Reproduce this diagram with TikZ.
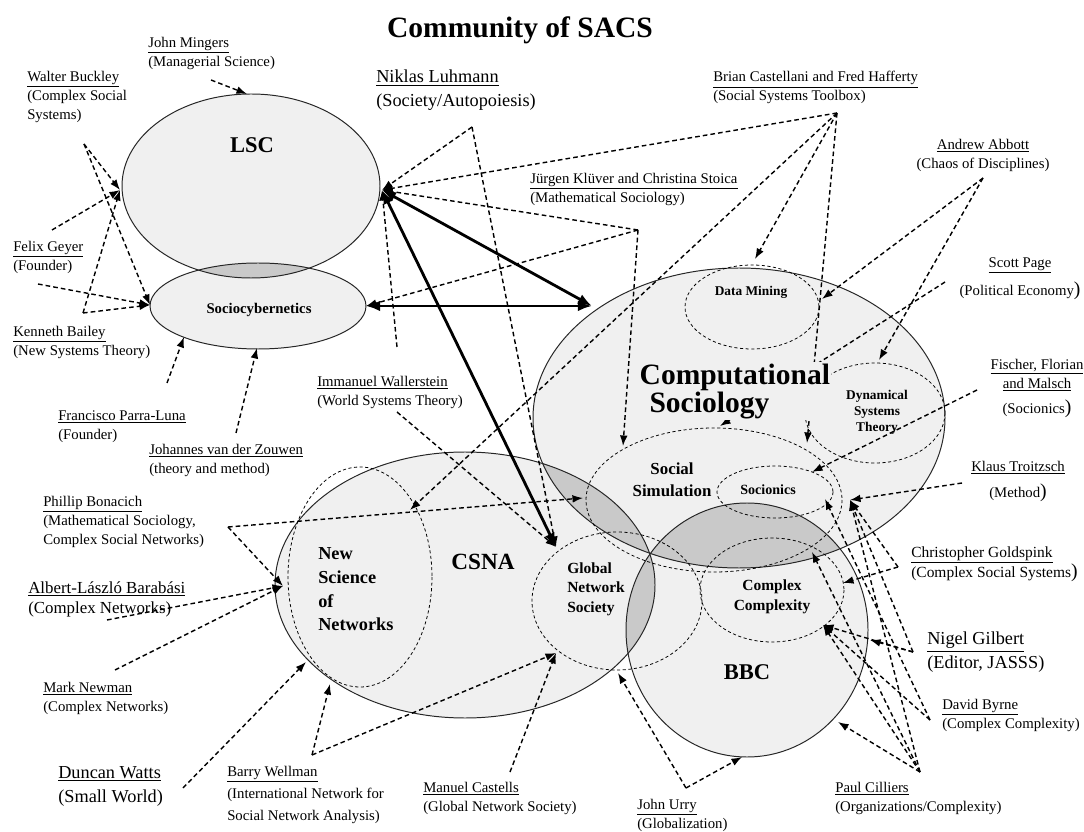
\documentclass[tikz,border=0pt]{standalone}
\usepackage{fontspec}
\setmainfont{Liberation Serif}
\usetikzlibrary{arrows.meta}
\usetikzlibrary{positioning}

\definecolor{cellfill}{HTML}{F0F0F0}
\definecolor{lensfill}{HTML}{C9C9C9}

% the five solid areas
\newcommand{\lscshape}{(251,186) ellipse [x radius=129, y radius=92]}
\newcommand{\socioshape}{(258,306) ellipse [x radius=108, y radius=43]}
\newcommand{\compshape}{(739,418) ellipse [x radius=206, y radius=150]}
\newcommand{\csnashape}{(465,585) ellipse [x radius=190, y radius=133]}
\newcommand{\bbcshape}{(747,630) ellipse [x radius=121, y radius=127]}

\tikzset{
  person/.style={font=\fontsize{10.5}{13.5}\selectfont, align=left, inner sep=0pt, anchor=north west},
  bigperson/.style={person, font=\fontsize{13}{17}\selectfont},
  field/.style={font=\bfseries\fontsize{16}{18}\selectfont, inner sep=0pt},
  subfield/.style={font=\bfseries\fontsize{10.5}{13}\selectfont, align=center, inner sep=0pt},
  area/.style={draw=black!85, line width=0.7pt},
  subarea/.style={draw=black, line width=0.55pt, dash pattern=on 2.2pt off 1.8pt},
  link/.style={line width=1pt, dash pattern=on 3.3pt off 2.2pt, -{Latex[length=7.5pt,width=5.5pt]}},
  strong/.style={line width=2pt, {Latex[length=10pt,width=7.5pt]}-{Latex[length=10pt,width=7.5pt]}},
}

\begin{document}
\begin{tikzpicture}[x=0.025cm, y=-0.025cm]
  \fill[white] (0,0) rectangle (1084,832);
  \useasboundingbox (0,0) rectangle (1084,832);

  % areas
  \fill[cellfill] \lscshape;
  \fill[cellfill] \socioshape;
  \fill[cellfill] \compshape;
  \fill[cellfill] \csnashape;
  \fill[cellfill] \bbcshape;
  \begin{scope}
    \clip \lscshape;
    \fill[lensfill] \socioshape;
  \end{scope}
  \begin{scope}
    \clip \compshape;
    \fill[lensfill] \csnashape;
    \fill[lensfill] \bbcshape;
  \end{scope}
  \begin{scope}
    \clip \csnashape;
    \fill[lensfill] \bbcshape;
  \end{scope}
  \draw[area] \lscshape;
  \draw[area] \socioshape;
  \draw[area] \compshape;
  \draw[area] \csnashape;
  \draw[area] \bbcshape;

  % inner fields
  \draw[subarea] (752,307) ellipse [x radius=67, y radius=42];
  \draw[subarea] (875,413) ellipse [x radius=70, y radius=50];
  \draw[subarea] (714,500) ellipse [x radius=128, y radius=72];
  \draw[subarea] (775,492) ellipse [x radius=58, y radius=26];
  \draw[subarea] (772,590) ellipse [x radius=72, y radius=52];
  \draw[subarea] (617,601) ellipse [x radius=85, y radius=69];
  \draw[subarea] (360,577) ellipse [x radius=72, y radius=110];

  % arrow ends on the areas
  \coordinate (lsc-n) at (247,94);
  \coordinate (lsc-w) at (120,190);
  \coordinate (lsc-e) at (382,190);
  \coordinate (socio-w) at (150,305);
  \coordinate (socio-e) at (366,306);
  \coordinate (socio-sw) at (184,337);
  \coordinate (socio-s) at (257,348);
  \coordinate (cs-w) at (592,306);
  \coordinate (dm-n) at (755,259);
  \coordinate (dm-e) at (822,299);
  \coordinate (dst-n) at (879,360);
  \coordinate (sim-n) at (623,446);
  \coordinate (sim-ne) at (720,426);
  \coordinate (sim-e) at (807,443);
  \coordinate (sim-w) at (583,498);
  \coordinate (soc-n) at (812,472);
  \coordinate (soc-e) at (825,499);
  \coordinate (cs-se) at (850,500);
  \coordinate (cc-n) at (812,552);
  \coordinate (cc-ne) at (843,583);
  \coordinate (cc-e) at (823,625);
  \coordinate (bbc-e) at (870,640);
  \coordinate (bbc-se) at (838,722);
  \coordinate (bbc-s) at (742,757);
  \coordinate (gns-n) at (556,547);
  \coordinate (gns-s) at (618,673);
  \coordinate (gns-sw) at (556,653);
  \coordinate (nsn-ne) at (410,510);
  \coordinate (nsn-w) at (283,586);
  \coordinate (csna-w) at (306,662);
  \coordinate (csna-sw) at (330,684);

  % arrow starts near the people
  \coordinate (mingers-p) at (211,80);
  \coordinate (buckley-p) at (84,144);
  \coordinate (geyer-p) at (52,230);
  \coordinate (geyer-q) at (38,284);
  \coordinate (bailey-p) at (83,313);
  \coordinate (parraluna-p) at (167,383);
  \coordinate (zouwen-p) at (236,433);
  \coordinate (luhmann-p) at (472,127);
  \coordinate (castellani-p) at (837,113);
  \coordinate (kluever-p) at (638,230);
  \coordinate (wallerstein-p) at (397,347);
  \coordinate (wallerstein-q) at (397,412);
  \coordinate (abbott-p) at (983,178);
  \coordinate (page-p) at (945,282);
  \coordinate (fischer-p) at (977,390);
  \coordinate (troitzsch-p) at (962,483);
  \coordinate (goldspink-p) at (898,567);
  \coordinate (gilbert-p) at (913,652);
  \coordinate (byrne-p) at (930,720);
  \coordinate (cilliers-p) at (920,772);
  \coordinate (urry-p) at (686,788);
  \coordinate (castells-p) at (510,772);
  \coordinate (wellman-p) at (312,755);
  \coordinate (watts-p) at (183,788);
  \coordinate (newman-p) at (115,670);
  \coordinate (barabasi-p) at (107,620);
  \coordinate (bonacich-p) at (228,527);

  % dashed links
  \draw[link] (mingers-p) -- (lsc-n);
  \draw[link] (buckley-p) -- (lsc-w);
  \draw[link] (buckley-p) -- (socio-w);
  \draw[link] (geyer-p) -- (lsc-w);
  \draw[link] (geyer-q) -- (socio-w);
  \draw[link] (bailey-p) -- (lsc-w);
  \draw[link] (bailey-p) -- (socio-w);
  \draw[link] (parraluna-p) -- (socio-sw);
  \draw[link] (zouwen-p) -- (socio-s);
  \draw[link] (luhmann-p) -- (lsc-e);
  \draw[link] (luhmann-p) -- (gns-n);
  \draw[link] (castellani-p) -- (lsc-e);
  \draw[link] (castellani-p) -- (dm-n);
  \draw[link] (castellani-p) -- (sim-e);
  \draw[link] (castellani-p) -- (nsn-ne);
  \draw[link] (kluever-p) -- (lsc-e);
  \draw[link] (kluever-p) -- (socio-e);
  \draw[link] (kluever-p) -- (sim-n);
  \draw[link] (wallerstein-p) -- (lsc-e);
  \draw[link] (wallerstein-q) -- (gns-n);
  \draw[link] (abbott-p) -- (dm-e);
  \draw[link] (abbott-p) -- (dst-n);
  \draw[link] (page-p) -- (sim-ne);
  \draw[link] (fischer-p) -- (soc-n);
  \draw[link] (troitzsch-p) -- (cs-se);
  \draw[link] (goldspink-p) -- (cs-se);
  \draw[link] (goldspink-p) -- (cc-ne);
  \draw[link] (gilbert-p) -- (cs-se);
  \draw[link] (gilbert-p) -- (bbc-e);
  \draw[link] (gilbert-p) -- (cc-e);
  \draw[link] (byrne-p) -- (soc-e);
  \draw[link] (byrne-p) -- (cc-e);
  \draw[link] (cilliers-p) -- (cs-se);
  \draw[link] (cilliers-p) -- (cc-n);
  \draw[link] (cilliers-p) -- (cc-e);
  \draw[link] (cilliers-p) -- (bbc-se);
  \draw[link] (urry-p) -- (gns-s);
  \draw[link] (urry-p) -- (bbc-s);
  \draw[link] (castells-p) -- (gns-sw);
  \draw[link] (wellman-p) -- (csna-sw);
  \draw[link] (wellman-p) -- (gns-sw);
  \draw[link] (watts-p) -- (csna-w);
  \draw[link] (newman-p) -- (nsn-w);
  \draw[link] (barabasi-p) -- (nsn-w);
  \draw[link] (bonacich-p) -- (sim-w);
  \draw[link] (bonacich-p) -- (nsn-w);

  % strong links
  \draw[strong] (lsc-e) -- (cs-w);
  \draw[strong] (socio-e) -- (cs-w);
  \draw[strong] (lsc-e) -- (gns-n);

  % field names
  \node[field] (lsc) at (252,145) {LSC};
  \node[subfield] (socio) at (259,310) {Sociocybernetics};
  \node[field, fill=cellfill, inner sep=1pt, align=left, anchor=north west,
        font=\bfseries\fontsize{21}{18.5}\selectfont] (compsoc) at (638,362)
        {Computational\\\hspace*{7pt}Sociology};
  \node[subfield, font=\bfseries\fontsize{9.5}{11}\selectfont] (datamining) at (751,292) {Data Mining};
  \node[subfield, font=\bfseries\fontsize{9.5}{11.5}\selectfont] (dynamical) at (877,412) {Dynamical\\Systems\\Theory};
  \node[subfield, font=\bfseries\fontsize{12}{15.5}\selectfont] (simulation) at (672,480) {Social\\Simulation};
  \node[subfield, font=\bfseries\fontsize{10}{12}\selectfont] (socionics) at (768,490) {Socionics};
  \node[subfield, font=\bfseries\fontsize{11}{14}\selectfont] (complexity) at (772,597) {Complex\\Complexity};
  \node[field, font=\bfseries\fontsize{16.5}{18}\selectfont] (csna) at (483,562) {CSNA};
  \node[field] (bbc) at (747,672) {BBC};
  \node[subfield, align=left, anchor=north west, font=\bfseries\fontsize{13}{17}\selectfont] (newscience) at (318,547) {New\\Science\\of\\Networks};
  \node[subfield, align=left, anchor=north west, font=\bfseries\fontsize{11}{14.2}\selectfont] (globalnet) at (567,562) {Global\\Network\\Society};

  % title
  \node[font=\bfseries\fontsize{21}{24}\selectfont] (title) at (520,30) {Community of SACS};

  % people
  \node[person] (mingers) at (148,37) {\underline{John Mingers}\\(Managerial Science)};
  \node[person] (buckley) at (27,71) {\underline{Walter Buckley}\\(Complex Social\\Systems)};
  \node[bigperson] (luhmann) at (376,70) {\underline{Niklas Luhmann}\\(Society/Autopoiesis)};
  \node[person] (castellani) at (713,71) {\underline{Brian Castellani and Fred Hafferty}\\(Social Systems Toolbox)};
  \node[person, align=center, anchor=north] (abbott) at (983,139) {\underline{Andrew Abbott}\\(Chaos of Disciplines)};
  \node[person] (kluever) at (530,173) {\underline{Jürgen Klüver and Christina Stoica}\\(Mathematical Sociology)};
  \node[person, align=center, anchor=north] (page) at (1020,257) {\underline{Scott Page}\\[5pt](Political Economy{\fontsize{14}{14}\selectfont)}};
  \node[person, align=center, anchor=north] (fischer) at (1037,359) {\underline{Fischer, Florian}\\\underline{and Malsch}\\[4pt](Socionics{\fontsize{14}{14}\selectfont)}};
  \node[person, align=center, anchor=north] (troitzsch) at (1018,461) {\underline{Klaus Troitzsch}\\[5pt](Method{\fontsize{14}{14}\selectfont)}};
  \node[person, font=\fontsize{11}{14.5}\selectfont] (goldspink) at (911,546) {\underline{Christopher Goldspink}\\(Complex Social Systems{\fontsize{14}{14}\selectfont)}};
  \node[bigperson] (gilbert) at (927,632) {\underline{Nigel Gilbert}\\(Editor, JASSS)};
  \node[person] (byrne) at (942,699) {\underline{David Byrne}\\(Complex Complexity)};
  \node[person] (cilliers) at (835,782) {\underline{Paul Cilliers}\\(Organizations/Complexity)};
  \node[person] (urry) at (637,799) {\underline{John Urry}\\(Globalization)};
  \node[person] (castells) at (423,782) {\underline{Manuel Castells}\\(Global Network Society)};
  \node[person, font=\fontsize{10.5}{15.5}\selectfont] (wellman) at (227,766) {\underline{Barry Wellman}\\(International Network for\\Social Network Analysis)};
  \node[bigperson] (watts) at (58,766) {\underline{Duncan Watts}\\(Small World)};
  \node[person] (newman) at (43,682) {\underline{Mark Newman}\\(Complex Networks)};
  \node[person, font=\fontsize{12}{14.5}\selectfont] (barabasi) at (28,581) {\underline{Albert-László Barabási}\\(Complex Networks)};
  \node[person] (bonacich) at (43,496) {\underline{Phillip Bonacich}\\(Mathematical Sociology,\\Complex Social Networks)};
  \node[person] (zouwen) at (149,444) {\underline{Johannes van der Zouwen}\\(theory and method)};
  \node[person] (parraluna) at (58,410) {\underline{Francisco Parra-Luna}\\(Founder)};
  \node[person] (wallerstein) at (317,376) {\underline{Immanuel Wallerstein}\\(World Systems Theory)};
  \node[person] (bailey) at (13,326) {\underline{Kenneth Bailey}\\(New Systems Theory)};
  \node[person] (geyer) at (13,241) {\underline{Felix Geyer}\\(Founder)};
\end{tikzpicture}
\end{document}
